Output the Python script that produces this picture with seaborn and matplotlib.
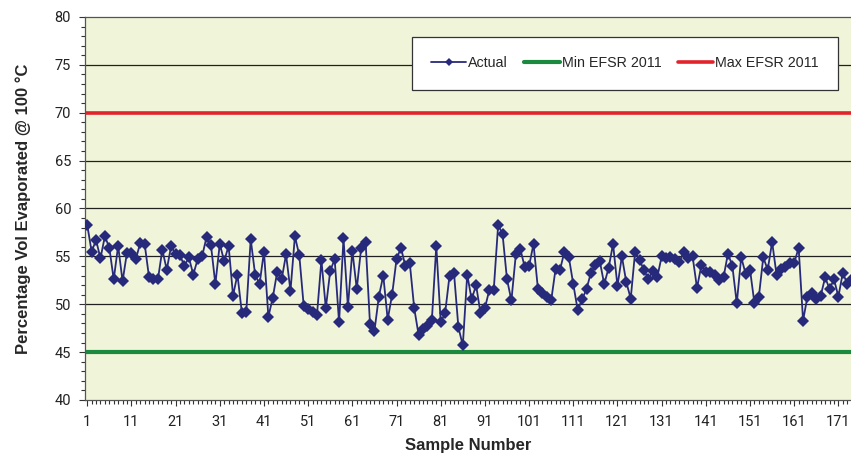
import numpy as np
import pandas as pd
import matplotlib
matplotlib.use("Agg")
import matplotlib.pyplot as plt
from matplotlib.ticker import MultipleLocator, FixedLocator
import seaborn as sns

# ---- data ----
actual = [
    58.3, 55.5, 56.7, 54.8, 57.1, 55.9, 52.6, 56.1, 52.4, 55.4,
    55.4, 54.7, 56.4, 56.3, 52.8, 52.6, 52.6, 55.7, 53.6, 56.1,
    55.2, 55.1, 54.0, 54.9, 53.1, 54.7, 55.0, 57.0, 56.2, 52.1,
    56.3, 54.5, 56.1, 50.9, 53.1, 49.1, 49.2, 56.8, 53.1, 52.1,
    55.5, 48.7, 50.7, 53.4, 52.6, 55.2, 51.4, 57.1, 55.1, 49.8,
    49.5, 49.2, 48.9, 54.6, 49.6, 53.5, 54.7, 48.1, 56.9, 49.7,
    55.6, 51.6, 55.9, 56.5, 47.9, 47.2, 50.8, 53.0, 48.4, 51.0,
    54.7, 55.9, 54.0, 54.3, 49.6, 46.8, 47.4, 47.7, 48.4, 56.1,
    48.1, 49.1, 53.0, 53.3, 47.6, 45.7, 53.1, 50.5, 52.0, 49.1,
    49.6, 51.5, 51.5, 58.3, 57.3, 52.6, 50.4, 55.2, 55.8, 53.9,
    54.0, 56.3, 51.6, 51.2, 50.8, 50.4, 53.7, 53.6, 55.5, 54.9,
    52.1, 49.4, 50.5, 51.6, 53.3, 54.1, 54.5, 52.1, 53.8, 56.3,
    51.9, 55.0, 52.3, 50.6, 55.5, 54.6, 53.6, 52.6, 53.5, 52.8,
    55.0, 54.8, 54.9, 54.7, 54.4, 55.5, 54.8, 55.0, 51.7, 54.1,
    53.4, 53.4, 53.1, 52.5, 52.8, 55.3, 54.0, 50.1, 54.9, 53.2,
    53.6, 50.1, 50.8, 54.9, 53.6, 56.5, 53.1, 53.7, 53.9, 54.3,
    54.3, 55.9, 48.3, 50.8, 51.2, 50.6, 50.9, 52.8, 51.6, 52.6,
    50.8, 53.3, 52.1, 52.6,
]
samples = list(range(1, len(actual) + 1))
min_efsr = 45
max_efsr = 70
x_tick_labels = list(range(1, 172, 10))
y_ticks = [40, 45, 50, 55, 60, 65, 70, 75, 80]

df = pd.DataFrame({"Sample Number": samples, "Actual": actual})

# ---- style ----
sns.set_theme(style="white")
plt.rcParams["font.family"] = ["Liberation Sans", "DejaVu Sans"]

fig = plt.figure(figsize=(8.51, 4.57), dpi=100)
ax = fig.add_axes([85 / 851, (457 - 400) / 457, 1 - 85 / 851, (400 - 17) / 457])
ax.set_facecolor("#F0F4D8")

# gridlines
for yv in [50, 55, 60, 65, 75]:
    ax.axhline(yv, color="#202020", lw=0.9, zorder=1)

ax.axhline(min_efsr, color="#1B8A3F", lw=3.0, zorder=2, label="Min EFSR 2011")
ax.axhline(max_efsr, color="#E3232B", lw=2.6, zorder=2, label="Max EFSR 2011")

sns.lineplot(data=df, x="Sample Number", y="Actual", ax=ax, color="#272A7A",
             marker="D", markersize=6, markeredgewidth=0, lw=1.3,
             label="Actual", zorder=3)

ax.set_xlim(0.5, 1 + (851 - 87) / 4.42)
ax.set_ylim(40, 80)

ax.set_yticks(y_ticks)
ax.yaxis.set_minor_locator(MultipleLocator(1))
ax.xaxis.set_major_locator(FixedLocator(x_tick_labels))
ax.set_xticklabels([str(v) for v in x_tick_labels])
ax.xaxis.set_minor_locator(MultipleLocator(1))

ax.tick_params(axis="both", which="both", direction="out", color="#333333",
               width=0.8, bottom=True, left=True, top=False, right=False)
ax.tick_params(axis="both", which="major", length=4, labelsize=10.5,
               labelcolor="#222222")
ax.tick_params(axis="x", which="major", pad=7)
ax.tick_params(axis="y", which="major", pad=6)
ax.tick_params(axis="both", which="minor", length=3)
for lab in ax.get_xticklabels() + ax.get_yticklabels():
    lab.set_family(["Roboto", "Liberation Sans"])

for side in ["left", "bottom", "top"]:
    ax.spines[side].set_visible(True)
    ax.spines[side].set_color("#555555")
    ax.spines[side].set_linewidth(0.9)
ax.spines["right"].set_visible(False)

ax.set_xlabel("Sample Number", fontsize=12, fontweight="bold", labelpad=6)
ax.set_ylabel("Percentage Vol Evaporated @ 100 \u00b0C", fontsize=12,
              fontweight="bold", labelpad=17)

handles, labels = ax.get_legend_handles_labels()
order = [labels.index("Actual"), labels.index("Min EFSR 2011"),
         labels.index("Max EFSR 2011")]
leg = ax.legend([handles[i] for i in order], [labels[i] for i in order],
                loc="upper right", bbox_to_anchor=((838 - 85) / 766, (400 - 37) / 383),
                ncol=3, frameon=True, fancybox=False, fontsize=10.3,
                handlelength=2.45, handletextpad=0.15, columnspacing=1.15,
                borderpad=1.35, borderaxespad=0)
leg.get_frame().set_edgecolor("#333333")
leg.get_frame().set_linewidth(0.9)
leg.get_frame().set_facecolor("white")
leg.get_frame().set_alpha(1)
for line in leg.get_lines():
    if line.get_marker() == "D":
        line.set_markersize(4)

fig.savefig("out.png", dpi=100)
